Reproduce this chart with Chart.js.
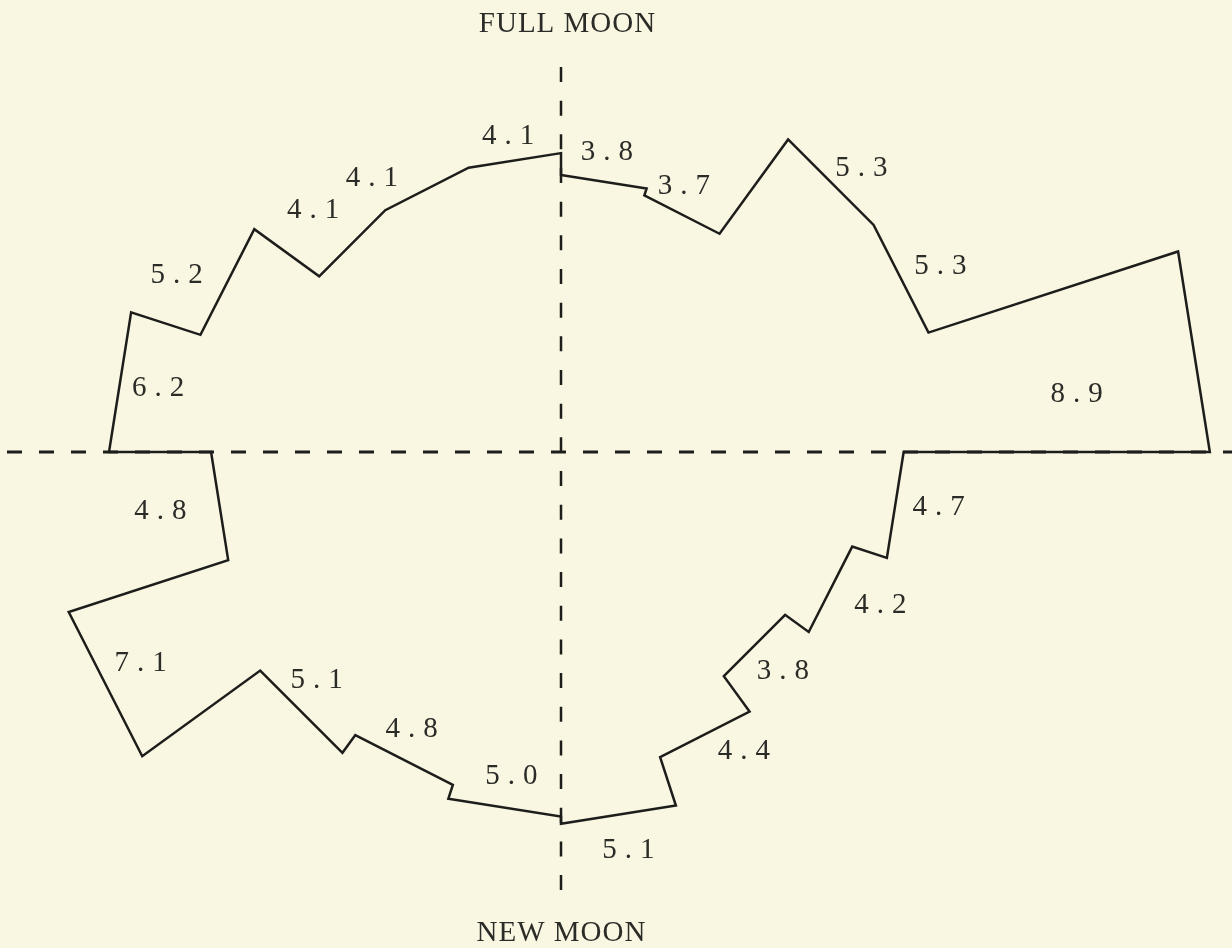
<!DOCTYPE html>
<html>
<head>
<meta charset="utf-8">
<title>Full moon / new moon rose</title>
<script src="https://cdn.jsdelivr.net/npm/chart.js@4/dist/chart.umd.min.js"></script>
<style>
  html, body { margin: 0; padding: 0; background: #f9f6e1; }
  canvas { display: block; }
</style>
</head>
<body>
<canvas id="rose" width="1232" height="948"></canvas>
<script>
// 20 sectors of 18 degrees, clockwise from full moon (top)
var sectors = [
  "0-18", "18-36", "36-54", "54-72", "72-90",
  "90-108", "108-126", "126-144", "144-162", "162-180",
  "180-198", "198-216", "216-234", "234-252", "252-270",
  "270-288", "288-306", "306-324", "324-342", "342-360"
];
var values = [3.8, 3.7, 5.3, 5.3, 8.9, 4.7, 4.2, 3.8, 4.4, 5.1,
              5.0, 4.8, 5.1, 7.1, 4.8, 6.2, 5.2, 4.1, 4.1, 4.1];
var valueLabels = values.map(function (v) { return v.toFixed(1); });
var topLabel = "FULL MOON";
var bottomLabel = "NEW MOON";
var radialMax = 6.2;

// where each number sits: turn from the sector middle (deg), gap from its edge (px)
var labelTurn = [-0.3, -2.2, 1.6, 0.9, 2.6, -0.7, -1.4, -0.3, -4.4, -0.6,
                 -0.3, 1.3, 1.9, 0.3, 0.6, 0, -2.3, -0.8, -7.6, -0.5];
var labelGap = [26, 23, 27, 36, -130, 39, 48, 35, 30, 32,
                -36, -35, -37, -47, 55, -44, 44, 47, 34, 21];

var ink = "#1d1d1b";
var paper = "#f9f6e1";
var typeFont = "29px 'Liberation Serif', 'DejaVu Serif', serif";

function spacedText(ctx, text, x, y, spacing) {
  ctx.letterSpacing = spacing + "px";
  var w = ctx.measureText(text).width - spacing;
  ctx.textAlign = "left";
  ctx.fillText(text, x - w / 2, y);
}

var roseOutline = {
  id: "roseOutline",
  beforeDraw: function (chart) {
    var ctx = chart.ctx;
    ctx.save();
    ctx.fillStyle = paper;
    ctx.fillRect(0, 0, chart.width, chart.height);
    ctx.restore();
  },
  beforeDatasetsDraw: function (chart) {
    var ctx = chart.ctx;
    var r = chart.scales.r;
    ctx.save();
    ctx.strokeStyle = ink;
    ctx.lineWidth = 3;
    // horizontal axis, full width
    ctx.setLineDash([15, 17]);
    ctx.lineDashOffset = -7;
    ctx.beginPath();
    ctx.moveTo(0, r.yCenter);
    ctx.lineTo(chart.width, r.yCenter);
    ctx.stroke();
    // vertical axis, full moon to new moon
    ctx.lineWidth = 2.5;
    ctx.setLineDash([15, 18.67]);
    ctx.lineDashOffset = 0;
    ctx.beginPath();
    ctx.moveTo(r.xCenter, r.yCenter - 385);
    ctx.lineTo(r.xCenter, r.yCenter + 438);
    ctx.stroke();
    ctx.restore();
  },
  afterDatasetsDraw: function (chart) {
    var ctx = chart.ctx;
    var r = chart.scales.r;
    var arcs = chart.getDatasetMeta(0).data;

    ctx.save();
    ctx.strokeStyle = ink;
    ctx.lineWidth = 2.5;
    ctx.lineJoin = "miter";
    ctx.setLineDash([]);
    ctx.beginPath();
    arcs.forEach(function (arc, i) {
      var p = arc.getProps(["x", "y", "startAngle", "endAngle", "outerRadius"], true);
      var x1 = p.x + Math.cos(p.startAngle) * p.outerRadius;
      var y1 = p.y + Math.sin(p.startAngle) * p.outerRadius;
      var x2 = p.x + Math.cos(p.endAngle) * p.outerRadius;
      var y2 = p.y + Math.sin(p.endAngle) * p.outerRadius;
      if (i === 0) ctx.moveTo(x1, y1); else ctx.lineTo(x1, y1);
      ctx.lineTo(x2, y2);
    });
    ctx.closePath();
    ctx.stroke();

    ctx.fillStyle = "#2b2b28";
    ctx.font = typeFont;
    ctx.textBaseline = "middle";
    arcs.forEach(function (arc, i) {
      var p = arc.getProps(["x", "y", "startAngle", "endAngle", "outerRadius"], true);
      var a = (p.startAngle + p.endAngle) / 2 + labelTurn[i] * Math.PI / 180;
      var d = p.outerRadius + labelGap[i];
      spacedText(ctx, valueLabels[i], p.x + Math.cos(a) * d, p.y + Math.sin(a) * d, 8);
    });

    spacedText(ctx, topLabel, r.xCenter + 6, 24, 1);
    spacedText(ctx, bottomLabel, r.xCenter, 933, 1);
    ctx.restore();
  }
};

new Chart(document.getElementById("rose"), {
  type: "polarArea",
  data: {
    labels: sectors,
    datasets: [{
      data: values,
      backgroundColor: "rgba(0,0,0,0)",
      borderWidth: 0
    }]
  },
  options: {
    responsive: false,
    animation: false,
    events: [],
    layout: { padding: { left: 0, top: 0, right: 110, bottom: 44 } },
    scales: {
      r: { display: false, min: 0, max: radialMax }
    },
    plugins: {
      legend: { display: false },
      tooltip: { enabled: false }
    }
  },
  plugins: [roseOutline]
});
</script>
</body>
</html>
